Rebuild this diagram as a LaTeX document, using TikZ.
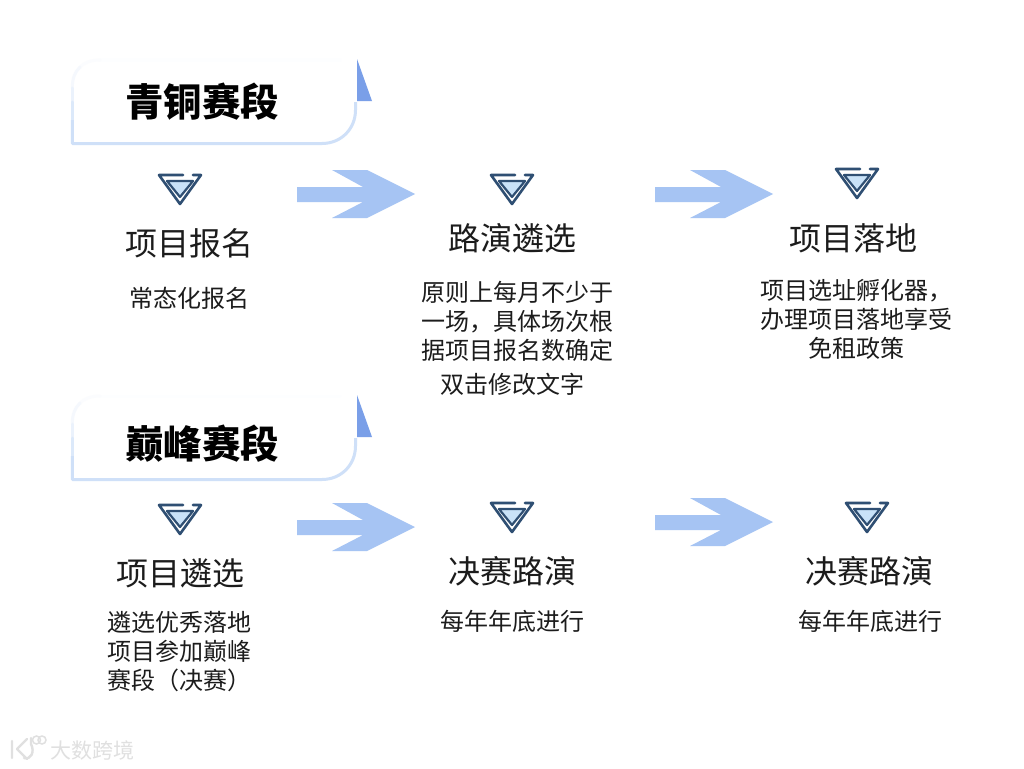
\documentclass[tikz,border=0pt]{standalone}
\usepackage{fontspec}
\setmainfont{Noto Sans CJK SC}
\definecolor{boxline}{HTML}{CFE0F8}
\definecolor{tri}{HTML}{7A9FE8}
\definecolor{arrowc}{HTML}{A6C4F3}
\definecolor{iconline}{HTML}{2F4F73}
\definecolor{iconfill}{HTML}{C9E2F8}
\definecolor{ink}{HTML}{1C1C1C}
\definecolor{wm}{HTML}{E0E0E0}
\tikzset{
  x=1pt,y=-1pt,
  titletext/.style={font=\fontsize{38.5}{38.5}\selectfont\bfseries,text=black,inner sep=0pt},
  headtext/.style={font=\fontsize{32}{32}\selectfont,text=ink,inner sep=0pt},
  bodytext/.style={font=\fontsize{24}{29}\selectfont,text=ink,inner sep=0pt,align=center},
  wmtext/.style={font=\fontsize{21}{21}\selectfont,text=wm,inner sep=0pt},
  framepart/.style={line width=3pt,line cap=round,line join=round},
}
\newcommand{\titleframe}[1]{
  \begin{scope}[shift={(0,#1)}]
    \draw[framepart,boxline!4!white] (100,60) -- (340,60);
    \draw[framepart,boxline!8!white] (100,60) .. controls (90,60) and (84,63) .. (80,67);
    \draw[framepart,boxline!22!white] (80,67) .. controls (75,72) and (72.3,78) .. (72.3,88);
    \draw[framepart,boxline!42!white] (72.3,88) -- (72.3,102);
    \draw[framepart,boxline!72!white] (72.3,102) -- (72.3,120);
    \draw[framepart,boxline,line cap=butt] (72.3,120) -- (72.3,143.5) -- (322,143.5)
       .. controls (341,143.5) and (355.5,129) .. (355.5,110) -- (355.5,102);
    \fill[tri] (357,59) -- (372,101) -- (357,101) -- cycle;
  \end{scope}
}
\newcommand{\downicon}[2]{
  \begin{scope}[shift={(#1,#2)}]
    \draw[iconline,line width=2.6pt,line cap=round,line join=round]
      (13,1) -- (21,1) -- (0,30) -- (-21,1) -- (3,1);
    \draw[iconline,line width=2.2pt,line join=round,fill=iconfill]
      (-13,7) -- (13,7) -- (0,23) -- cycle;
  \end{scope}
}
\newcommand{\bigarrow}[2]{
  \fill[arrowc,shift={(#1,#2)}] (0,17) -- (66,17) -- (35,0) -- (70,0) -- (118,24)
     -- (70,48) -- (35,48) -- (66,32) -- (0,32) -- cycle;
}
\begin{document}
\begin{tikzpicture}
\useasboundingbox (0,0) rectangle (1024,768);
\fill[white] (0,0) rectangle (1024,768);

\titleframe{0}
\titleframe{336}
\node[titletext] (t1) at (202,102) {青铜赛段};
\node[titletext] (t2) at (202,444) {巅峰赛段};

\downicon{180}{174}
\downicon{512}{174}
\downicon{857}{168}
\downicon{180}{504}
\downicon{512}{502}
\downicon{867}{502}

\bigarrow{297}{170}
\bigarrow{655}{170}
\bigarrow{297}{503}
\bigarrow{655}{498}

\node[headtext] (h1) at (189,243.3) {项目报名};
\node[headtext] (h2) at (512,238.3) {路演遴选};
\node[headtext] (h3) at (853,238.3) {项目落地};
\node[headtext] (h4) at (180,573.3) {项目遴选};
\node[headtext] (h5) at (512,571.3) {决赛路演};
\node[headtext] (h6) at (869.5,571.3) {决赛路演};

\node[bodytext] (b1) at (189.5,298.5) {常态化报名};
\node[bodytext] (b2) at (517.5,321.5) {原则上每月不少于\\一场，具体场次根\\据项目报名数确定};
\node[bodytext] (b2b) at (512,384.5) {双击修改文字};
\node[bodytext] (b3) at (856,319) {项目选址孵化器，\\办理项目落地享受\\免租政策};
\node[bodytext] (b4) at (179.5,652) {遴选优秀落地\\项目参加巅峰\\赛段（决赛）};
\node[bodytext] (b5) at (512,621) {每年年底进行};
\node[bodytext] (b6) at (870,621) {每年年底进行};

% watermark
\draw[wm,line width=2.4pt,line cap=round,line join=round]
  (12,741) -- (12,758) (27,739) -- (17,749) -- (27,759)
  (24,758) .. controls (31,760) and (35,752) .. (31,744) -- (31,738);
\draw[wm,line width=1.5pt] (36.5,740) circle (4);
\draw[wm,line width=1.5pt] (42,740) circle (4);
\node[wmtext] (wm) at (92,750) {大数跨境};
\end{tikzpicture}
\end{document}
